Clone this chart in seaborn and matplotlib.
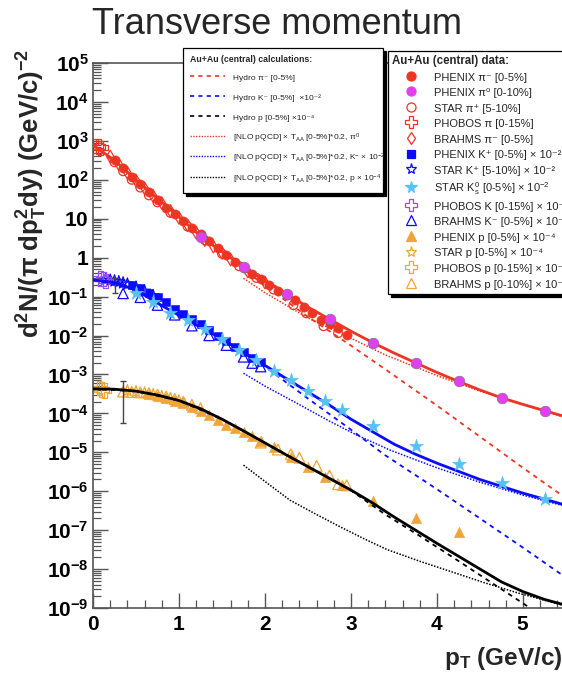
import numpy as np
import matplotlib
matplotlib.use("Agg")
import matplotlib.pyplot as plt
import seaborn as sns
from matplotlib.lines import Line2D
from matplotlib.ticker import LogLocator, MultipleLocator, FuncFormatter, NullFormatter

# ---------------- data (x = pT in GeV/c, ly = log10 of yield) -------------
# model curves
pi_total_x = [0, 0.25, 0.5, 0.75, 1.0, 1.25, 1.5, 1.75, 2.0, 2.25, 2.5, 2.75, 3.0, 3.25, 3.5, 3.75, 4.0, 4.25, 4.5, 4.75, 5.0, 5.25, 5.5]
pi_total_ly = [2.89, 2.50, 2.00, 1.52, 1.05, 0.55, 0.15, -0.23, -0.60, -0.93, -1.27, -1.58, -1.89, -2.18, -2.45, -2.70, -2.95, -3.18, -3.40, -3.60, -3.77, -3.93, -4.09]
pi_hydro_x = [0, 0.5, 1.0, 1.5, 2.0, 2.5, 3.0, 3.4, 4.0, 4.5, 5.0, 5.5]
pi_hydro_ly = [2.89, 2.00, 1.04, 0.12, -0.72, -1.52, -2.26, -2.87, -3.80, -4.60, -5.40, -6.18]
pi_nlo_x = [1.75, 2.0, 2.5, 3.0, 3.4, 4.0, 4.5, 5.0, 5.5]
pi_nlo_ly = [-0.53, -0.90, -1.55, -2.07, -2.50, -3.03, -3.43, -3.78, -4.11]

k_total_x = [0, 0.25, 0.5, 0.75, 1.0, 1.25, 1.5, 1.75, 2.0, 2.25, 2.5, 2.75, 3.0, 3.25, 3.5, 3.75, 4.0, 4.5, 5.0, 5.5]
k_total_ly = [-0.57, -0.64, -0.83, -1.17, -1.48, -1.79, -2.09, -2.43, -2.77, -3.11, -3.45, -3.79, -4.15, -4.47, -4.79, -5.05, -5.28, -5.70, -6.05, -6.36]
k_hydro_x = [0, 0.5, 1.0, 1.5, 2.0, 2.5, 3.0, 3.4, 4.0, 4.5, 5.0, 5.5]
k_hydro_ly = [-0.57, -0.83, -1.48, -2.10, -2.80, -3.62, -4.42, -5.08, -5.95, -6.70, -7.45, -8.22]
k_nlo_x = [1.75, 2.0, 2.37, 2.75, 3.07, 3.45, 4.0, 4.5, 5.0, 5.5]
k_nlo_ly = [-2.97, -3.30, -3.74, -4.20, -4.56, -4.94, -5.40, -5.77, -6.10, -6.39]

p_total_x = [0, 0.25, 0.5, 0.75, 1.0, 1.25, 1.5, 1.75, 2.0, 2.25, 2.5, 2.75, 3.0, 3.25, 3.5, 3.75, 4.0, 4.25, 4.5, 4.75, 5.0, 5.25, 5.5]
p_total_ly = [-3.37, -3.38, -3.43, -3.53, -3.67, -3.88, -4.15, -4.45, -4.76, -5.07, -5.37, -5.67, -5.97, -6.30, -6.66, -7.00, -7.34, -7.67, -8.00, -8.33, -8.58, -8.78, -8.93]
p_hydro_x = [0, 0.5, 1.0, 1.5, 2.0, 2.5, 3.0, 3.4, 3.8, 4.2, 4.6, 5.0, 5.15]
p_hydro_ly = [-3.37, -3.43, -3.67, -4.15, -4.76, -5.37, -5.98, -6.60, -7.15, -7.72, -8.30, -8.88, -9.10]
p_nlo_x = [1.75, 2.0, 2.29, 2.6, 2.87, 3.15, 3.42, 3.8, 4.17, 4.55, 4.95, 5.5]
p_nlo_ly = [-5.33, -5.75, -6.23, -6.60, -6.91, -7.22, -7.50, -7.80, -8.07, -8.35, -8.62, -8.95]

# measured spectra
phenix_pim_x = [0.25, 0.35, 0.45, 0.55, 0.65, 0.75, 0.85, 0.95, 1.05, 1.15, 1.25, 1.35, 1.45, 1.55, 1.65, 1.75, 1.85, 1.95, 2.05, 2.15, 2.25, 2.35, 2.45, 2.55, 2.65, 2.75, 2.85, 2.95]
phenix_pim_ly = [2.51, 2.30, 2.08, 1.90, 1.69, 1.48, 1.28, 1.13, 0.93, 0.75, 0.60, 0.42, 0.24, 0.07, -0.10, -0.26, -0.42, -0.56, -0.70, -0.85, -0.97, -1.09, -1.26, -1.43, -1.60, -1.70, -1.82, -1.98]
phenix_pi0_x = [1.25, 1.75, 2.25, 2.75, 3.25, 3.75, 4.25, 4.75, 5.25]
phenix_pi0_ly = [0.52, -0.23, -0.93, -1.58, -2.19, -2.70, -3.18, -3.61, -3.93]
star_pip_x = [0.25, 0.35, 0.45, 0.55, 0.65, 0.75, 0.9, 1.1, 1.3, 1.5, 1.7, 1.9, 2.1, 2.33, 2.48, 2.68, 2.85]
star_pip_ly = [2.45, 2.22, 2.00, 1.80, 1.60, 1.42, 1.15, 0.80, 0.45, 0.10, -0.22, -0.52, -0.82, -1.22, -1.43, -1.76, -1.94]
phobos_pi_x = [0.03, 0.06, 0.09]
phobos_pi_ly = [2.87, 2.85, 2.82]
brahms_pim_x = [0.2, 0.3, 0.4, 0.5, 0.6, 0.7, 0.8, 0.9, 1.0, 1.1, 1.2, 1.3, 1.4, 1.5, 1.6, 1.8, 2.0]
brahms_pim_ly = [2.60, 2.40, 2.18, 1.98, 1.78, 1.58, 1.40, 1.20, 1.02, 0.83, 0.64, 0.45, 0.28, 0.12, -0.05, -0.36, -0.64]

phenix_kp_x = [0.45, 0.55, 0.65, 0.75, 0.85, 0.95, 1.05, 1.15, 1.25, 1.35, 1.45, 1.55, 1.65, 1.75, 1.85, 1.95]
phenix_kp_ly = [-0.70, -0.78, -0.90, -1.02, -1.15, -1.31, -1.45, -1.58, -1.71, -1.87, -2.01, -2.15, -2.30, -2.43, -2.57, -2.67]
star_kp_x = [0.15, 0.2, 0.25, 0.3, 0.35, 0.4, 0.5, 0.6, 0.7]
star_kp_ly = [-0.55, -0.58, -0.60, -0.62, -0.65, -0.68, -0.76, -0.86, -0.98]
star_k0s_x = [0.5, 0.7, 0.9, 1.1, 1.3, 1.5, 1.7, 1.9, 2.1, 2.3, 2.5, 2.7, 2.9, 3.25, 3.75, 4.25, 4.75, 5.25]
star_k0s_ly = [-0.90, -1.15, -1.42, -1.60, -1.83, -2.08, -2.36, -2.62, -2.90, -3.14, -3.42, -3.68, -3.91, -4.32, -4.84, -5.30, -5.80, -6.21]
phobos_k_x = [0.09, 0.12, 0.15]
phobos_k_ly = [-0.53, -0.55, -0.60]
brahms_km_x = [0.35, 0.55, 0.75, 0.95, 1.15, 1.35, 1.55, 1.75, 1.85, 1.95]
brahms_km_ly = [-0.92, -1.02, -1.22, -1.47, -1.75, -2.00, -2.25, -2.55, -2.71, -2.80]

phenix_p_x = [0.65, 0.75, 0.85, 0.95, 1.05, 1.15, 1.25, 1.35, 1.45, 1.55, 1.65, 1.75, 1.85, 1.95, 2.1, 2.3, 2.5, 2.7, 2.9, 3.25, 3.75, 4.25]
phenix_p_ly = [-3.50, -3.55, -3.60, -3.67, -3.74, -3.83, -3.93, -4.04, -4.17, -4.29, -4.38, -4.47, -4.58, -4.72, -4.87, -5.13, -5.37, -5.63, -5.84, -6.24, -6.70, -7.06]
star_p_x = [0.4, 0.5, 0.6, 0.7, 0.8, 0.9, 1.0]
star_p_ly = [-3.42, -3.45, -3.48, -3.52, -3.57, -3.62, -3.68]
phobos_p_x = [0.07, 0.10, 0.13]
phobos_p_ly = [-3.35, -3.38, -3.41]
brahms_p_x = [0.35, 0.45, 0.55, 0.65, 0.75, 0.85, 0.95, 1.05, 1.15, 1.25, 1.95, 2.15, 2.3, 2.4, 2.6, 2.75, 2.85, 2.95]
brahms_p_ly = [-3.44, -3.45, -3.46, -3.48, -3.52, -3.57, -3.63, -3.70, -3.78, -3.87, -4.75, -4.93, -5.05, -5.14, -5.35, -5.60, -5.82, -5.85]

# two large error bars
err_x = [0.25, 0.35]
err_ly = [-0.72, -3.44]
err_lo_ly = [-0.91, -4.24]
err_hi_ly = [-0.53, -3.16]

# ---------------- style -------------
RED = '#ee3524'
MAGENTA = '#e23ff0'
BLUE = '#0b0bff'
CYAN = '#55c2f5'
PURPLE = '#9a4cf5'
ORANGE = '#f0a43a'
AXC = '#555555'

sns.set_theme(style="white")
plt.rcParams['font.family'] = ['Liberation Sans', 'DejaVu Sans']
plt.rcParams['mathtext.fontset'] = 'custom'
plt.rcParams['mathtext.rm'] = 'Liberation Sans'
plt.rcParams['mathtext.it'] = 'Liberation Sans:italic'
plt.rcParams['mathtext.bf'] = 'Liberation Sans:bold'

W, H = 562, 678
fig = plt.figure(figsize=(W / 100, H / 100), dpi=100)
ax = fig.add_axes([93 / W, 1 - 608 / H, 473 / W, 545 / H])
ax.set_yscale('log')


def Y(ly):
    return np.power(10.0, np.asarray(ly, dtype=float))


# data points
series = [
    (phenix_pim_x, phenix_pim_ly, 'o', RED, RED, 44, 2),
    (star_pip_x, star_pip_ly, 'o', 'none', RED, 40, 2),
    (phobos_pi_x, phobos_pi_ly, 'P', 'none', RED, 110, 2),
    (brahms_pim_x, brahms_pim_ly, 'd', 'none', RED, 40, 2),
    (phenix_kp_x, phenix_kp_ly, 's', BLUE, BLUE, 36, 2),
    (star_kp_x, star_kp_ly, '*', 'none', BLUE, 80, 2),
    (phobos_k_x, phobos_k_ly, 'P', 'none', PURPLE, 110, 2),
    (brahms_km_x, brahms_km_ly, '^', 'none', BLUE, 55, 2),
    (phenix_p_x, phenix_p_ly, '^', ORANGE, ORANGE, 55, 2),
    (star_p_x, star_p_ly, '*', 'none', ORANGE, 80, 2),
    (phobos_p_x, phobos_p_ly, 'P', 'none', ORANGE, 110, 2),
    (brahms_p_x, brahms_p_ly, '^', 'none', ORANGE, 60, 2),
    (phenix_pi0_x, phenix_pi0_ly, 'o', MAGENTA, '#777777', 60, 5),
    (star_k0s_x, star_k0s_ly, '*', CYAN, CYAN, 110, 5),
]
for xs, lys, mk, fc, ec, s, z in series:
    sns.scatterplot(x=xs, y=Y(lys), ax=ax, marker=mk, s=s, facecolor=fc,
                    edgecolor=ec, linewidth=0.9 if fc == 'none' else 0.4,
                    legend=False, zorder=z)

# error bars
ey = Y(err_ly)
ax.errorbar(err_x, ey, yerr=[ey - Y(err_lo_ly), Y(err_hi_ly) - ey], fmt='none',
            ecolor='#444444', elinewidth=1, capsize=2.5, zorder=3)

# model curves
curves = [
    (pi_total_x, pi_total_ly, RED, '-', 2.0),
    (pi_hydro_x, pi_hydro_ly, RED, (0, (2.5, 2.5)), 1.3),
    (pi_nlo_x, pi_nlo_ly, RED, (0, (1, 1)), 1.1),
    (k_total_x, k_total_ly, BLUE, '-', 2.0),
    (k_hydro_x, k_hydro_ly, BLUE, (0, (2.5, 2.5)), 1.3),
    (k_nlo_x, k_nlo_ly, BLUE, (0, (1, 1)), 1.1),
    (p_total_x, p_total_ly, 'black', '-', 2.0),
    (p_hydro_x, p_hydro_ly, 'black', (0, (2.5, 2.5)), 1.3),
    (p_nlo_x, p_nlo_ly, 'black', (0, (1, 1)), 1.1),
]
for xs, lys, c, ls, lw in curves:
    sns.lineplot(x=xs, y=Y(lys), ax=ax, color=c, linestyle=ls, linewidth=lw,
                 estimator=None, sort=False, legend=False, zorder=4)

ax.set_xlim(0, 5.5)
ax.set_ylim(1e-9, 1e5)
ax.set_xlabel('')
ax.set_ylabel('')
ax.grid(False)


def yfmt(v, pos):
    e = int(round(np.log10(v)))
    if e == 0:
        return r'$\mathbf{1}$'
    if e == 1:
        return r'$\mathbf{10}$'
    return r'$\mathbf{10^{%d}}$' % e


ax.yaxis.set_major_locator(LogLocator(base=10, subs=(1.0,), numticks=40))
ax.yaxis.set_minor_locator(LogLocator(base=10, subs=np.arange(2, 10), numticks=40))
ax.yaxis.set_major_formatter(FuncFormatter(yfmt))
ax.yaxis.set_minor_formatter(NullFormatter())
ax.xaxis.set_major_locator(MultipleLocator(1))
ax.xaxis.set_minor_locator(MultipleLocator(0.2))
ax.xaxis.set_major_formatter(FuncFormatter(lambda v, p: r'$\mathbf{%d}$' % int(round(v))))

ax.tick_params(axis='both', which='major', direction='in', length=11, width=1,
               color=AXC, labelsize=15, labelcolor='black', bottom=True, left=True,
               top=False, right=False)
ax.tick_params(axis='both', which='minor', direction='in', length=5.5, width=0.9,
               color=AXC, bottom=True, left=True, top=False, right=False)
ax.tick_params(axis='y', which='major', pad=3)
ax.tick_params(axis='x', which='major', pad=5)
for sp in ax.spines.values():
    sp.set_color(AXC)
    sp.set_linewidth(1.2)
    sp.set_visible(True)

# texts
fig.text(277 / W, 1 - 25 / H, 'Transverse momentum', fontsize=26, ha='center', va='center')
fig.text(32 / W, 1 - 193 / H, r'$\mathbf{d^{2}N/(\pi\ dp_{T}^{2}dy)\ (GeV/c)^{-2}}$',
         rotation=90, ha='center', va='center', fontsize=18.5)
fig.text(444 / W, 1 - 659 / H, r'$\mathbf{p_{T}\ (GeV/c)}$', ha='left', va='center', fontsize=17.5)

# legend 1: calculations
calc_handles = [
    Line2D([], [], color=RED, linestyle=(0, (2.5, 2.5)), lw=1.2),
    Line2D([], [], color=BLUE, linestyle=(0, (2.5, 2.5)), lw=1.2),
    Line2D([], [], color='black', linestyle=(0, (2.5, 2.5)), lw=1.2),
    Line2D([], [], color=RED, linestyle=(0, (1, 1)), lw=1.0),
    Line2D([], [], color=BLUE, linestyle=(0, (1, 1)), lw=1.0),
    Line2D([], [], color='black', linestyle=(0, (1, 1)), lw=1.0),
]
calc_labels = [
    'Hydro π⁻ [0-5%]',
    'Hydro K⁻ [0-5%]  ×10⁻²',
    'Hydro p [0-5%] ×10⁻⁴',
    r'[NLO pQCD] × $\mathregular{T_{AA}}$ [0-5%]*0.2, $\mathregular{\pi^{0}}$',
    r'[NLO pQCD] × $\mathregular{T_{AA}}$ [0-5%]*0.2, $\mathregular{K^{-}}$ × $\mathregular{10^{-2}}$',
    r'[NLO pQCD] × $\mathregular{T_{AA}}$ [0-5%]*0.2, p × $\mathregular{10^{-4}}$',
]
leg1 = fig.legend(calc_handles, calc_labels, loc='upper left',
                  bbox_to_anchor=(183 / W, 1 - 193 / H, 200 / W, 145 / H),
                  bbox_transform=fig.transFigure, mode='expand', borderaxespad=0,
                  fontsize=6, title='Au+Au (central) calculations:',
                  title_fontproperties={'weight': 'bold', 'size': 6.3},
                  alignment='left', handlelength=4.2, handleheight=2.0,
                  labelspacing=0.85, handletextpad=0.9, borderpad=0.85,
                  frameon=True, fancybox=False, framealpha=1, edgecolor='black',
                  shadow={'color': 'black', 'alpha': 1})
leg1.get_frame().set_linewidth(0.9)


# legend 2: data
def mh(mk, fc, ec, ms):
    return Line2D([], [], marker=mk, linestyle='none', markersize=ms,
                  markerfacecolor=fc, markeredgecolor=ec, markeredgewidth=0.9)


data_handles = [
    mh('o', RED, RED, 6.5), mh('o', MAGENTA, MAGENTA, 6.5), mh('o', 'none', RED, 6.5),
    mh('P', 'none', RED, 8), mh('d', 'none', RED, 6.5), mh('s', BLUE, BLUE, 5.5),
    mh('*', 'none', BLUE, 8), mh('*', CYAN, CYAN, 8.5), mh('P', 'none', PURPLE, 8),
    mh('^', 'none', BLUE, 7), mh('^', ORANGE, ORANGE, 7), mh('*', 'none', ORANGE, 8),
    mh('P', 'none', ORANGE, 8), mh('^', 'none', ORANGE, 7),
]
data_labels = [
    'PHENIX π⁻ [0-5%]',
    'PHENIX π⁰ [0-10%]',
    'STAR π⁺ [5-10%]',
    'PHOBOS π [0-15%]',
    'BRAHMS π⁻ [0-5%]',
    'PHENIX K⁺ [0-5%] × 10⁻²',
    'STAR K⁺ [5-10%] × 10⁻²',
    r'STAR $\mathregular{K^{0}_{s}}$ [0-5%] × $\mathregular{10^{-2}}$',
    'PHOBOS K [0-15%] × 10⁻²',
    'BRAHMS K⁻ [0-5%] × 10⁻²',
    'PHENIX p [0-5%] × 10⁻⁴',
    'STAR p [0-5%] × 10⁻⁴',
    'PHOBOS p [0-15%] × 10⁻⁴',
    'BRAHMS p [0-10%] × 10⁻⁴',
]
leg2 = fig.legend(data_handles, data_labels, loc='upper left',
                  bbox_to_anchor=(388 / W, 1 - 295 / H, 215 / W, 244 / H),
                  bbox_transform=fig.transFigure, mode='expand', borderaxespad=0,
                  fontsize=8, title='Au+Au (central) data:',
                  title_fontproperties={'weight': 'bold', 'size': 8.3},
                  alignment='left', handlelength=3.4, handleheight=1.3,
                  labelspacing=0.31, handletextpad=0.3, borderpad=0.4,
                  frameon=True, fancybox=False, framealpha=1, edgecolor='black',
                  shadow={'color': 'black', 'alpha': 1})
leg2.get_frame().set_linewidth(0.9)

fig.savefig('out.png', dpi=100)
